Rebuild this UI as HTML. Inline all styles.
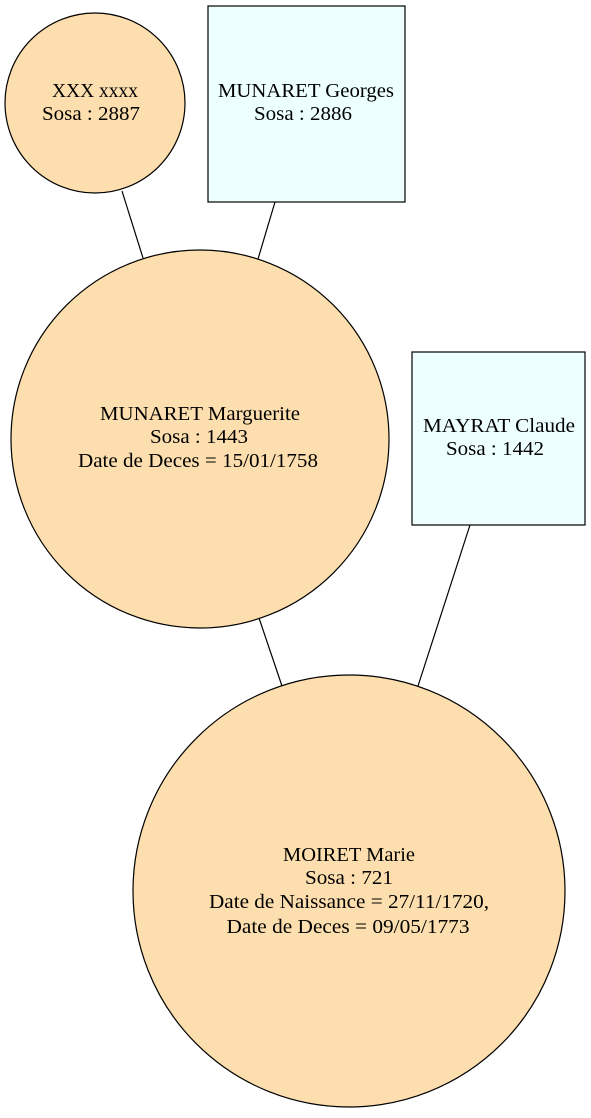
<!DOCTYPE html>
<html><head><style>html,body{margin:0;padding:0;background:#fff}</style></head>
<body>
<svg width="591" height="1113" viewBox="0 0 591 1113" xmlns="http://www.w3.org/2000/svg" font-family="Liberation Serif, serif" font-size="20.5" text-anchor="middle">
<g stroke="#000" stroke-width="1.2">
<line x1="122" y1="191" x2="143" y2="258"/>
<line x1="275" y1="202" x2="258" y2="259"/>
<line x1="259" y1="618" x2="282" y2="686"/>
<line x1="470" y1="525" x2="418" y2="686"/>
<circle cx="95" cy="103" r="90" fill="#fddeae"/>
<rect x="208" y="6" width="197" height="196" fill="#eeffff"/>
<circle cx="200" cy="439" r="189" fill="#fddeae"/>
<rect x="412" y="352" width="173" height="173" fill="#eeffff"/>
<circle cx="349" cy="891" r="216" fill="#fddeae"/>
</g>
<text x="95" y="97" textLength="86" lengthAdjust="spacingAndGlyphs">XXX xxxx</text><text x="91" y="120" textLength="98" lengthAdjust="spacingAndGlyphs">Sosa : 2887</text>
<text x="306" y="97" textLength="176" lengthAdjust="spacingAndGlyphs">MUNARET Georges</text><text x="303" y="120" textLength="98" lengthAdjust="spacingAndGlyphs">Sosa : 2886</text>
<text x="200" y="420" textLength="200" lengthAdjust="spacingAndGlyphs">MUNARET Marguerite</text><text x="199" y="443" textLength="98" lengthAdjust="spacingAndGlyphs">Sosa : 1443</text><text x="198" y="467" textLength="240" lengthAdjust="spacingAndGlyphs">Date de Deces = 15/01/1758</text>
<text x="499" y="432" textLength="152" lengthAdjust="spacingAndGlyphs">MAYRAT Claude</text><text x="495" y="455" textLength="98" lengthAdjust="spacingAndGlyphs">Sosa : 1442</text>
<text x="349" y="861" textLength="132" lengthAdjust="spacingAndGlyphs">MOIRET Marie</text><text x="349" y="884" textLength="88" lengthAdjust="spacingAndGlyphs">Sosa : 721</text><text x="349" y="908" textLength="280" lengthAdjust="spacingAndGlyphs">Date de Naissance = 27/11/1720,</text><text x="348" y="933" textLength="243" lengthAdjust="spacingAndGlyphs">Date de Deces = 09/05/1773</text>
</svg>
</body></html>
